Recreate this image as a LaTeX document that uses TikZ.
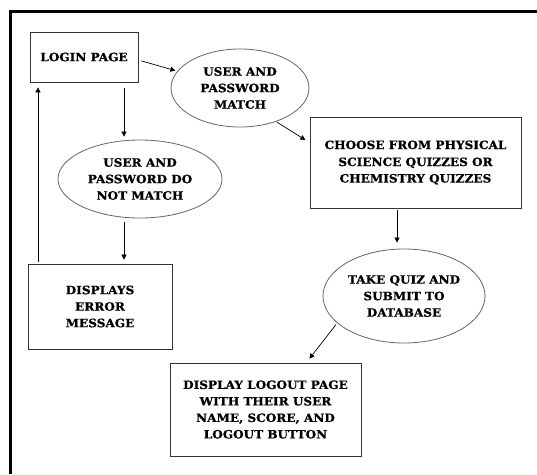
\documentclass[tikz,border=0pt]{standalone}
\usepackage{fontspec}
\setmainfont{DejaVu Serif}[BoldFeatures={FakeStretch=1.05,FakeBold=0.8}]
\usetikzlibrary{shapes.geometric,arrows.meta}
\begin{document}
\begin{tikzpicture}[x=1pt,y=-1pt,
  lbl/.style={font=\fontsize{11.5}{16.5}\selectfont\bfseries, align=center, text=black},
  boxnode/.style={lbl, draw=black!80, line width=0.8pt, inner sep=0pt},
  ellnode/.style={lbl, ellipse, draw=black!60, line width=0.8pt, inner sep=0pt},
  arr/.style={-{Triangle[length=5pt,width=5pt]}, line width=0.7pt, black}
]
\useasboundingbox (0,0) rectangle (537,474);
\fill[white] (0,0) rectangle (537,474);
\draw[line width=3pt] (10,474) -- (10,11) -- (537,11);

\node[boxnode, minimum width=108pt, minimum height=50pt] (login) at (84,57) {LOGIN PAGE};
\node[ellnode, minimum width=138pt, minimum height=78pt] (match) at (240,88) {USER AND\\PASSWORD\\MATCH};
\node[ellnode, minimum width=164pt, minimum height=78pt] (nomatch) at (140,179) {USER AND\\PASSWORD DO\\NOT MATCH};
\node[boxnode, minimum width=144pt, minimum height=85pt] (error) at (100,306.5) {DISPLAYS\\ERROR\\MESSAGE};
\node[boxnode, minimum width=211pt, minimum height=91pt] (choose) at (415.5,162.5) {\raisebox{2pt}{\begin{tabular}{@{}c@{}}CHOOSE FROM PHYSICAL\\[0.5pt]SCIENCE QUIZZES OR\\CHEMISTRY QUIZZES\end{tabular}}};
\node[ellnode, minimum width=162pt, minimum height=94pt] (quiz) at (404,296) {TAKE QUIZ AND\\SUBMIT TO\\DATABASE};
\node[boxnode, minimum width=191pt, minimum height=93pt] (logout) at (265.5,409.5) {DISPLAY LOGOUT PAGE\\WITH THEIR USER\\NAME, SCORE, AND\\LOGOUT BUTTON};

\coordinate (c1) at (124,0);
\coordinate (c2) at (38,0);
\coordinate (c3) at (397,0);

\draw[arr, shorten <=3pt, shorten >=2pt] ([yshift=-3pt]login.east) -- (match.165);
\draw[arr, shorten <=6pt, shorten >=3pt] (login.south -| c1) -- (nomatch.north -| c1);
\draw[arr, shorten <=4pt, shorten >=4pt] (nomatch.south -| c1) -- (error.north -| c1);
\draw[arr, shorten <=2pt, shorten >=5pt] (error.north -| c2) -- (login.south -| c2);
\draw[arr, shorten <=1pt, shorten >=5pt] (match.-43) -- ([yshift=-26pt]choose.north west);
\draw[arr, shorten <=2pt, shorten >=6pt] (choose.south -| c3) -- (quiz.north -| c3);
\draw[arr, shorten <=2pt, shorten >=5pt] (quiz.202) -- ([xshift=-55pt]logout.north east);
\end{tikzpicture}
\end{document}
